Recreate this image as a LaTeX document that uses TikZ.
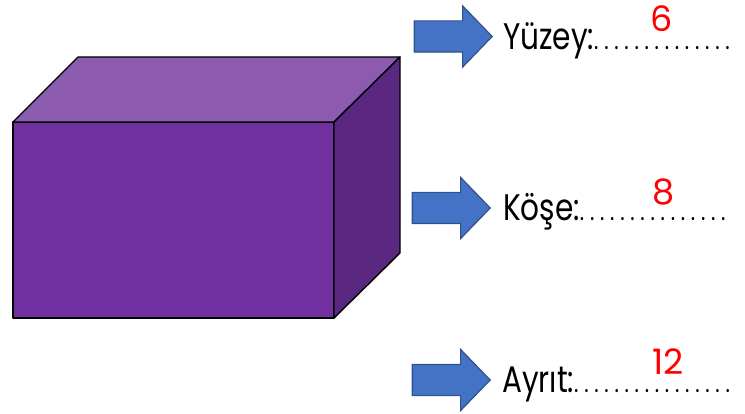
\documentclass[tikz,border=0pt]{standalone}
\usepackage{fontspec}
\setmainfont{Poppins}[FakeStretch=0.8]
\newfontfamily\digitfont{Poppins}
\usetikzlibrary{shapes.arrows}
\definecolor{boxfront}{HTML}{7030A0}
\definecolor{boxtop}{HTML}{8C5BB0}
\definecolor{boxside}{HTML}{5A2781}
\definecolor{arrowblue}{HTML}{4472C4}
\definecolor{arrowline}{HTML}{2F528F}
\newcommand{\leaderdots}[1]{{\fontsize{26}{26}\selectfont\addfontfeature{LetterSpace=22}#1}}
\tikzset{
    face/.style={draw=black, line width=1.4pt, line join=round},
    pointer/.style={shape=single arrow, anchor=tip, draw=arrowline, fill=arrowblue, line width=1.2pt, inner sep=0pt, text height=30pt, text depth=0pt, text width=1pt, minimum height=78pt, single arrow head extend=15pt, single arrow tip angle=92},
    lab/.style={anchor=base west, font=\fontsize{37}{37}\selectfont, inner sep=0pt},
    answer/.style={text=red, font=\digitfont\fontsize{35}{35}\selectfont, inner sep=0pt}
}
\begin{document}
\begin{tikzpicture}[x=1pt, y=-1pt]
    \useasboundingbox (0,0) rectangle (745,414);
    % box
    \coordinate (fa) at (13,122);
    \coordinate (fb) at (334,122);
    \coordinate (fc) at (334,318);
    \coordinate (fd) at (13,318);
    \coordinate (ba) at (78,57);
    \coordinate (bb) at (400,57);
    \coordinate (bc) at (400,253);
    \draw[face, fill=boxfront] (fa) -- (fb) -- (fc) -- (fd) -- cycle;
    \draw[face, fill=boxtop] (fa) -- (ba) -- (bb) -- (fb) -- cycle;
    \draw[face, fill=boxside] (fb) -- (bb) -- (bc) -- (fc) -- cycle;

    \foreach \N/\X/\Y/\LX/\LY/\T/\V/\W/\Q in {yuzey/493/36.5/503/50/{Yüzey:\leaderdots{..............}}/6/662/19,
                                kose/491/208/503/221/{Köşe:\leaderdots{...............}}/8/664/192,
                                ayrit/491/380/502/392/{Ayrıt:\leaderdots{................}}/12/668/362} {
        \node[pointer](arrow\N) at (\X,\Y) {};
        \node[lab](label\N) at (\LX,\LY) {\T};
        \node[answer](value\N) at (\W,\Q) {\V};
    }
\end{tikzpicture}
\end{document}
